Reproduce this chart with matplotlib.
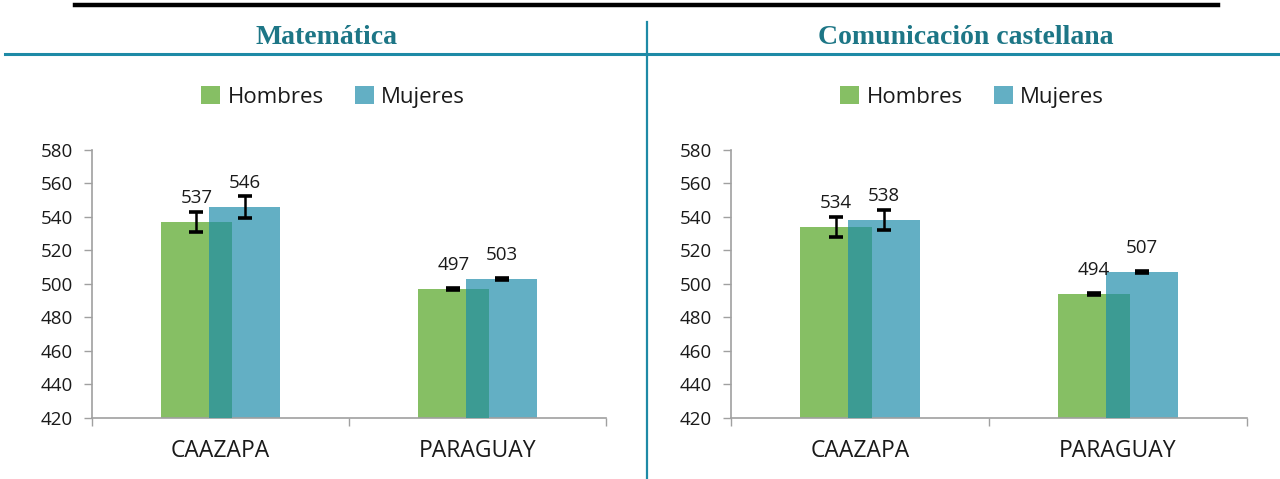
import matplotlib
matplotlib.use("Agg")
import matplotlib.pyplot as plt
from matplotlib.patches import Patch
from matplotlib.lines import Line2D
import numpy as np

categories = ["CAAZAPA", "PARAGUAY"]
subjects = ["Matemática", "Comunicación castellana"]
series_names = ["Hombres", "Mujeres"]

mat_hombres = [537, 497]
mat_mujeres = [546, 503]
mat_err_hombres = [5.9, 0.5]
mat_err_mujeres = [6.4, 0.8]

com_hombres = [534, 494]
com_mujeres = [538, 507]
com_err_hombres = [5.8, 0.5]
com_err_mujeres = [6.0, 0.5]

yticks = [420, 440, 460, 480, 500, 520, 540, 560, 580]

GREEN = "#86BF64"
BLUE = "#63AFC4"
OVERLAP = "#3C9B93"
TEAL_LINE = "#1E8AA6"
TEAL_TEXT = "#1D7686"
AXIS = "#A0A0A0"
TXT = "#1A1A1A"

plt.rcParams['font.family'] = ['Open Sans', 'DejaVu Sans']

fig = plt.figure(figsize=(12.8, 4.79), dpi=100)

W, H = 1280, 479
def fx(px): return px / W
def fy(py): return 1 - py / H

# decorative lines
fig.add_artist(Line2D([fx(75), fx(1218)], [fy(5), fy(5)], color="black", lw=3.2, transform=fig.transFigure))
fig.add_artist(Line2D([fx(5), fx(1280)], [fy(54), fy(54)], color=TEAL_LINE, lw=2.2, transform=fig.transFigure))
fig.add_artist(Line2D([fx(647), fx(647)], [fy(22), fy(479)], color=TEAL_LINE, lw=1.6, transform=fig.transFigure))

panels = [
    (subjects[0], mat_hombres, mat_mujeres, mat_err_hombres, mat_err_mujeres, 92, 606, 326, 333),
    (subjects[1], com_hombres, com_mujeres, com_err_hombres, com_err_mujeres, 731, 1247, 966, 972),
]

width = 0.28
off = 0.0934

for title, hom, muj, eh, em, x0, x1, tx, lx in panels:
    ax = fig.add_axes([fx(x0), fy(418), fx(x1) - fx(x0), fy(150) - fy(418)])
    x = np.arange(len(categories))
    ax.bar(x - off, np.array(hom) - 420, width, bottom=420, color=GREEN, zorder=2)
    ax.bar(x + off, np.array(muj) - 420, width, bottom=420, color=BLUE, zorder=2)
    # overlap region (darker)
    ov_left = x + off - width / 2
    ov_right = x - off + width / 2
    ov_h = np.minimum(hom, muj)
    ax.bar((ov_left + ov_right) / 2, ov_h - 420, ov_right - ov_left, bottom=420,
           color=OVERLAP, zorder=3)
    ax.errorbar(x - off, hom, yerr=eh, fmt="none", ecolor="black", elinewidth=1.8,
                capsize=5, capthick=2.6, zorder=5)
    ax.errorbar(x + off, muj, yerr=em, fmt="none", ecolor="black", elinewidth=1.8,
                capsize=5, capthick=2.6, zorder=5)
    for xi, v in zip(x - off, hom):
        ax.annotate(str(v), (xi, v), xytext=(0, 17.5), textcoords="offset points",
                    ha="center", va="center", fontsize=13.5, color=TXT)
    for xi, v in zip(x + off, muj):
        ax.annotate(str(v), (xi, v), xytext=(0, 17.5), textcoords="offset points",
                    ha="center", va="center", fontsize=13.5, color=TXT)

    ax.set_xlim(-0.5, 1.5)
    ax.set_ylim(420, 580)
    ax.set_yticks(yticks)
    ax.tick_params(axis="y", length=6, width=1, color=AXIS, labelsize=13.5, labelcolor=TXT, pad=8)
    ax.set_xticks([-0.5, 0.5, 1.5])
    ax.set_xticklabels([])
    ax.tick_params(axis="x", which="major", length=6, width=1, color=AXIS)
    ax.set_xticks(x, minor=True)
    ax.set_xticklabels(categories, minor=True)
    ax.tick_params(axis="x", which="minor", length=0, labelsize=16.5, labelcolor=TXT, pad=15)
    for s in ["top", "right"]:
        ax.spines[s].set_visible(False)
    for s in ["left", "bottom"]:
        ax.spines[s].set_color(AXIS)
        ax.spines[s].set_linewidth(1.2)

    fig.text(fx(tx), fy(38), title, ha="center", va="center", fontsize=20,
             fontweight="bold", color=TEAL_TEXT, family=["Liberation Serif"])

    handles = [Patch(facecolor=GREEN, label=series_names[0]),
               Patch(facecolor=BLUE, label=series_names[1])]
    fig.legend(handles=handles, loc="center", bbox_to_anchor=(fx(lx), fy(97)), ncol=2,
               frameon=False, fontsize=16, handlelength=0.85, handleheight=0.85,
               handletextpad=0.35, columnspacing=1.4, labelcolor=TXT)

fig.savefig("out.png", dpi=100)
